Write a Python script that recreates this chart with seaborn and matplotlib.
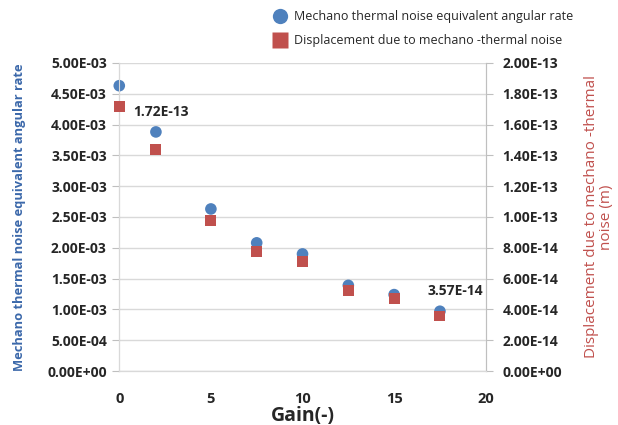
import matplotlib
matplotlib.use("Agg")
import matplotlib.pyplot as plt
import seaborn as sns
import pandas as pd
from matplotlib.ticker import FuncFormatter, MultipleLocator
from matplotlib.lines import Line2D

gain = [0, 2, 5, 7.5, 10, 12.5, 15, 17.5]
angular_rate = [4.63e-3, 3.88e-3, 2.63e-3, 2.08e-3, 1.90e-3, 1.39e-3, 1.24e-3, 0.97e-3]
displacement = [1.72e-13, 1.435e-13, 0.98e-13, 0.773e-13, 0.708e-13, 0.52e-13, 0.468e-13, 0.357e-13]
label_rate = "Mechano thermal noise equivalent angular rate"
label_disp = "Displacement due to mechano -thermal noise"

df = pd.DataFrame({"gain": gain, "rate": angular_rate, "disp": displacement})

sns.set_style("white")
plt.rcParams['font.family'] = ['Open Sans', 'DejaVu Sans']

blue = "#4F81BD"
blue_text = "#3B68AA"
red = "#C0504D"

fig = plt.figure(figsize=(6.18, 4.25), dpi=100)
ax = fig.add_axes([0.193, 0.127, 0.593, 0.725])
ax2 = ax.twinx()

sns.scatterplot(data=df, x="gain", y="rate", ax=ax, color=blue, marker="o", s=70,
                edgecolor="none", zorder=3, legend=False, clip_on=False)
sns.scatterplot(data=df, x="gain", y="disp", ax=ax2, color=red, marker="s", s=62,
                edgecolor="none", zorder=3, legend=False, clip_on=False)

ax.set_xlim(0, 20)
ax.set_ylim(0, 5e-3)
ax2.set_ylim(0, 2e-13)
ax.xaxis.set_major_locator(MultipleLocator(5))
ax.yaxis.set_major_locator(MultipleLocator(5e-4))
ax2.yaxis.set_major_locator(MultipleLocator(2e-14))

def sci(v, pos):
    return "%.2E" % v

ax.yaxis.set_major_formatter(FuncFormatter(sci))
ax2.yaxis.set_major_formatter(FuncFormatter(sci))
for a in (ax, ax2):
    a.yaxis.get_offset_text().set_visible(False)
    a.xaxis.get_offset_text().set_visible(False)

ax.grid(axis="y", color="#D9D9D9", lw=1)
ax.set_axisbelow(True)

for a in (ax, ax2):
    for sp in a.spines.values():
        sp.set_color("#D9D9D9")
    a.spines["top"].set_visible(False)
ax.spines["left"].set_color("#BFBFBF")
ax2.spines["right"].set_color("#BFBFBF")
ax.spines["bottom"].set_color("#BFBFBF")

ax.tick_params(axis="y", direction="out", length=5, color="#BFBFBF", pad=4, labelsize=10)
ax.tick_params(axis="x", direction="out", length=5, color="#BFBFBF", pad=10, labelsize=10.5)
ax2.tick_params(axis="y", direction="out", length=5, color="#BFBFBF", pad=7, labelsize=10)
for lab in ax.get_yticklabels() + ax.get_xticklabels() + ax2.get_yticklabels():
    lab.set_fontweight("bold")

ax.set_xlabel("Gain(-)", fontsize=14, fontweight="bold", labelpad=0)
ax.set_ylabel(label_rate, fontsize=9.3, fontweight="bold", color=blue_text, labelpad=15)
ax2.set_ylabel("Displacement due to mechano -thermal\nnoise (m)", fontsize=11,
               color=red, labelpad=16, linespacing=1.0)

ax2.annotate("1.72E-13", xy=(gain[0], displacement[0]), xytext=(10, -4),
             textcoords="offset points", fontsize=10, fontweight="bold", ha="left", va="center")
ax2.annotate("3.57E-14", xy=(gain[-1], displacement[-1]), xytext=(11, 18),
             textcoords="offset points", fontsize=10, fontweight="bold", ha="center", va="center")

handles = [
    Line2D([], [], ls="none", marker="o", markersize=11, color=blue, markeredgecolor="none"),
    Line2D([], [], ls="none", marker="s", markersize=11, color=red, markeredgecolor="none"),
]
fig.legend(handles, [label_rate, label_disp], loc="upper left",
           bbox_to_anchor=(272 / 618, 1 - 10 / 425), frameon=False, fontsize=9,
           handletextpad=0.6, handlelength=1.2, labelspacing=0.9,
           borderpad=0, borderaxespad=0)

fig.savefig("out.png", dpi=100)
